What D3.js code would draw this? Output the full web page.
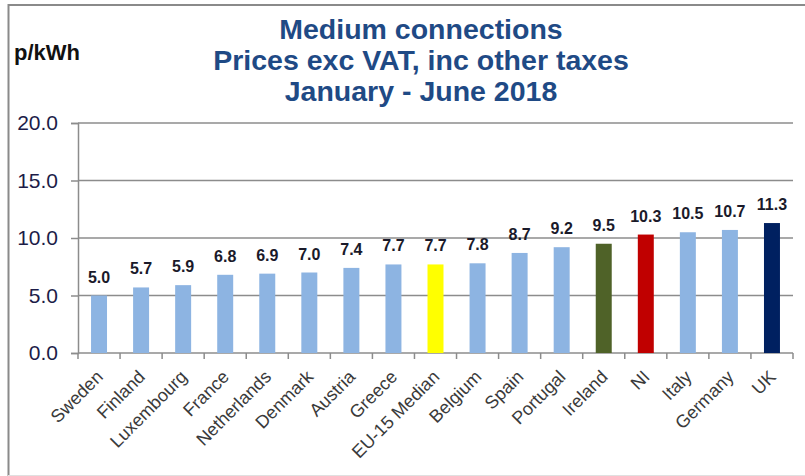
<!DOCTYPE html>
<html>
<head>
<meta charset="utf-8">
<script src="https://cdn.jsdelivr.net/npm/d3@7"></script>
<style>
  body { margin: 0; background: #fff; }
  svg { display: block; font-family: "Liberation Sans", Arial, sans-serif; }
</style>
</head>
<body>
<svg id="chart" width="805" height="476"></svg>
<script>
// chart values
var categories = ["Sweden", "Finland", "Luxembourg", "France", "Netherlands", "Denmark", "Austria", "Greece",
    "EU-15 Median", "Belgium", "Spain", "Portugal", "Ireland", "NI", "Italy", "Germany", "UK"];
var prices = [5.0, 5.7, 5.9, 6.8, 6.9, 7.0, 7.4, 7.7, 7.7, 7.8, 8.7, 9.2, 9.5, 10.3, 10.5, 10.7, 11.3];
var yTicks = [0, 5, 10, 15, 20];
var titleLines = ["Medium connections", "Prices exc VAT, inc other taxes", "January - June 2018"];

// highlighted bars, everything else is light blue
var highlight = { "EU-15 Median": "#ffff00", "Ireland": "#4f6228", "NI": "#c00000", "UK": "#002060" };

var svg = d3.select("#chart");

// plot box (note: "top" is reserved on window, so prefix these)
var plotLeft = 78, plotRight = 793, plotTop = 123, plotBottom = 353;

var x = d3.scaleBand().domain(categories).range([plotLeft, plotRight]).paddingInner(0.62).paddingOuter(0.31);
var y = d3.scaleLinear().domain([0, 20]).range([plotBottom, plotTop]);

// outer frame
svg.append("line").attr("x1", 8.5).attr("x2", 8.5).attr("y1", 4).attr("y2", 476)
    .style("stroke", "#8a8a8a").style("stroke-width", 2);
svg.append("line").attr("x1", 8).attr("x2", 805).attr("y1", 5).attr("y2", 5)
    .style("stroke", "#8a8a8a").style("stroke-width", 2);
svg.append("line").attr("x1", 8).attr("x2", 805).attr("y1", 475.5).attr("y2", 475.5)
    .style("stroke", "#e0e0e0").style("stroke-width", 1);

// title
svg.append("g").selectAll("text")
    .data(titleLines)
    .enter().append("text")
    .attr("x", 421)
    .attr("y", function (d, i) { return 39 + i * 31; })
    .attr("text-anchor", "middle")
    .style("font-size", "28.5px")
    .style("font-weight", "bold")
    .style("fill", "#1f4a85")
    .text(function (d) { return d; });

svg.append("text")
    .attr("x", 14).attr("y", 60)
    .style("font-size", "22px")
    .style("font-weight", "bold")
    .style("fill", "#111")
    .text("p/kWh");

// gridlines
svg.append("g").selectAll("line")
    .data(yTicks.filter(function (d) { return d > 0; }))
    .enter().append("line")
    .attr("x1", plotLeft).attr("x2", plotRight)
    .attr("y1", function (d) { return y(d); })
    .attr("y2", function (d) { return y(d); })
    .style("stroke", "#8c8c8c")
    .style("stroke-width", 1.5);

// y axis
var yAxis = svg.append("g")
    .attr("transform", "translate(" + plotLeft + ",0)")
    .call(d3.axisLeft(y).tickValues(yTicks).tickFormat(d3.format(".1f")).tickSize(7).tickPadding(13));
yAxis.select(".domain").style("stroke", "#8c8c8c").style("stroke-width", 1.5);
yAxis.selectAll(".tick line").style("stroke", "#8c8c8c").style("stroke-width", 1.5);
yAxis.selectAll(".tick text")
    .style("font-size", "21px")
    .style("font-family", "'Liberation Sans', Arial, sans-serif")
    .style("fill", "#1c1c48");

// x axis: line plus ticks between categories
var gap = (x.step() - x.bandwidth()) / 2;
var bounds = categories.map(function (c) { return x(c) - gap; }).concat([plotRight]);
svg.append("line").attr("x1", plotLeft).attr("x2", plotRight).attr("y1", plotBottom).attr("y2", plotBottom)
    .style("stroke", "#8c8c8c").style("stroke-width", 1.5);
svg.append("g").selectAll("line")
    .data(bounds)
    .enter().append("line")
    .attr("x1", function (d) { return d; }).attr("x2", function (d) { return d; })
    .attr("y1", plotBottom).attr("y2", plotBottom + 6)
    .style("stroke", "#8c8c8c").style("stroke-width", 1.5);

// bars
svg.append("g").selectAll("rect")
    .data(categories)
    .enter().append("rect")
    .attr("x", function (d) { return x(d); })
    .attr("width", x.bandwidth())
    .attr("y", function (d, i) { return y(prices[i]); })
    .attr("height", function (d, i) { return plotBottom - y(prices[i]); })
    .style("fill", function (d) { return highlight[d] || "#8db4e2"; });

// value labels
svg.append("g").selectAll("text")
    .data(categories)
    .enter().append("text")
    .attr("x", function (d) { return x(d) + x.bandwidth() / 2; })
    .attr("y", function (d, i) { return y(prices[i]) - 13; })
    .attr("text-anchor", "middle")
    .style("font-size", "16px")
    .style("font-weight", "bold")
    .style("fill", "#1a1a2a")
    .text(function (d, i) { return d3.format(".1f")(prices[i]); });

// category labels, rotated
svg.append("g").selectAll("text")
    .data(categories)
    .enter().append("text")
    .attr("transform", function (d) {
        return "translate(" + (x(d) + x.bandwidth() / 2 + 5) + ",378) rotate(-45)";
    })
    .attr("text-anchor", "end")
    .style("font-size", "18px")
    .style("fill", "#3a3a3a")
    .text(function (d) { return d; });
</script>
</body>
</html>
